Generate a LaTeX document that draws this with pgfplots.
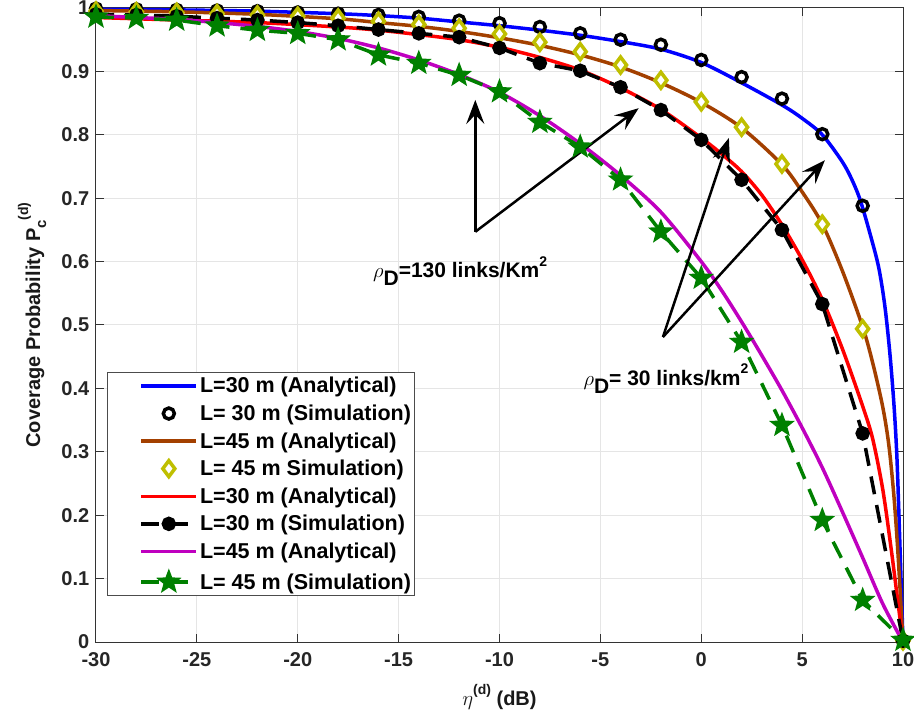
\documentclass[border=0pt]{standalone}
\usepackage{fontspec}
\setmainfont{Liberation Sans}
\usepackage{amsmath}
\usepackage{pgfplots}
\pgfplotsset{compat=1.18}
\usetikzlibrary{arrows.meta}
\definecolor{mblue}{rgb}{0,0,1}
\definecolor{mbrown}{rgb}{0.64,0.25,0.0}
\definecolor{myellow}{rgb}{0.75,0.75,0}
\definecolor{mred}{rgb}{1,0,0}
\definecolor{mmag}{rgb}{0.75,0,0.75}
\definecolor{mgreen}{rgb}{0,0.5,0}
\pgfdeclareplotmark{fstar}{%
  \pgfpathmoveto{\pgfpointpolar{90}{\pgfplotmarksize}}%
  \pgfpathlineto{\pgfpointpolar{126}{0.42\pgfplotmarksize}}%
  \pgfpathlineto{\pgfpointpolar{162}{\pgfplotmarksize}}%
  \pgfpathlineto{\pgfpointpolar{198}{0.42\pgfplotmarksize}}%
  \pgfpathlineto{\pgfpointpolar{234}{\pgfplotmarksize}}%
  \pgfpathlineto{\pgfpointpolar{270}{0.42\pgfplotmarksize}}%
  \pgfpathlineto{\pgfpointpolar{306}{\pgfplotmarksize}}%
  \pgfpathlineto{\pgfpointpolar{342}{0.42\pgfplotmarksize}}%
  \pgfpathlineto{\pgfpointpolar{18}{\pgfplotmarksize}}%
  \pgfpathlineto{\pgfpointpolar{54}{0.42\pgfplotmarksize}}%
  \pgfpathclose\pgfusepathqfill}
\newcommand{\bigf}{\fontsize{20}{22}\selectfont\bfseries}
\newcommand{\annf}{\fontsize{21}{23}\selectfont\bfseries}
\begin{document}
\begin{tikzpicture}
\begin{axis}[
  scale only axis, width=807pt, height=634pt,
  xmin=-30, xmax=10, ymin=0, ymax=1,
  xtick={-30,-25,-20,-15,-10,-5,0,5,10},
  ytick={0,0.1,0.2,0.3,0.4,0.5,0.6,0.7,0.8,0.9,1},
  yticklabels={0,0.1,0.2,0.3,0.4,0.5,0.6,0.7,0.8,0.9,1},
  grid=major, grid style={color=black!10, line width=1pt},
  axis line style={color=black!80, line width=1pt},
  tick style={color=black!80, line width=1pt}, major tick length=8pt,
  tick label style={font=\bigf, text=black!85, inner sep=1pt},
  xticklabel style={yshift=-9.5pt},
  yticklabel style={xshift=-5.5pt},
  /pgf/number format/assume math mode=true,
  xlabel={$\eta$\raisebox{0.55em}{\fontsize{14}{14}\selectfont\bfseries (d)} (dB)},
  ylabel={Coverage Probability P\raisebox{-0.3em}{\fontsize{15}{15}\selectfont\bfseries c}\raisebox{0.6em}{\fontsize{14}{14}\selectfont\bfseries (d)}},
  xlabel style={at={(axis description cs:0.5,-0.0868)}, anchor=center},
  ylabel style={at={(axis description cs:-0.0793,0.5)}, anchor=center},
  label style={font=\bigf, text=black!90},
  legend style={at={(axis cs:-29.45,0.426)}, anchor=north west,
    font=\fontsize{21.5}{23}\selectfont\bfseries, draw=black!70, line width=1pt,
    row sep=6.5pt, inner xsep=2pt, inner ysep=3pt},
  legend cell align=left,
  legend image code/.code={\path (-30pt,0pt);\draw[mark repeat=2,mark phase=2] plot coordinates {(0pt,0pt) (27.5pt,0pt) (55pt,0pt)};},
  clip=false,
]
% rho=30, L=30 analytical
\addplot[mblue, line width=3.5pt, smooth] coordinates {
(-30,0.998) (-26,0.997) (-22,0.995) (-18,0.991) (-16,0.988) (-14,0.984) (-12,0.978) (-10,0.972) (-8,0.965) (-6,0.957) (-4,0.947) (-2,0.935) (0,0.914) (2,0.882) (4,0.847) (5,0.826) (6,0.800) (7,0.757) (7.5,0.727) (7.9,0.695) (8.4,0.640) (8.8,0.590) (9.1,0.530) (9.35,0.455) (9.55,0.375) (9.7,0.290) (9.85,0.150) (10,0)};
\addlegendentry{L=30 m (Analytical)}
\addplot[only marks, black, mark=o, mark size=5.5pt, line width=3.5pt, mark options={fill=white}] coordinates {
(-30,0.999) (-28,0.998) (-26,0.997) (-24,0.996) (-22,0.995) (-20,0.993) (-18,0.991) (-16,0.989) (-14,0.986) (-12,0.980) (-10,0.976) (-8,0.970) (-6,0.960) (-4,0.950) (-2,0.942) (0,0.918) (2,0.891) (4,0.857) (6,0.801) (8,0.688) (10,0.002)};
\addlegendentry{L= 30 m (Simulation)}
% rho=30, L=45 analytical
\addplot[mbrown, line width=3.5pt, smooth] coordinates {
(-30,0.996) (-26,0.994) (-22,0.990) (-18,0.983) (-16,0.977) (-14,0.971) (-12,0.963) (-10,0.953) (-8,0.941) (-6,0.926) (-4,0.907) (-2,0.882) (0,0.851) (2,0.811) (4,0.753) (5,0.710) (6,0.659) (7,0.585) (8,0.497) (8.5,0.440) (9,0.370) (9.3,0.310) (9.55,0.230) (9.75,0.140) (10,0)};
\addlegendentry{L=45 m (Analytical)}
\addplot[only marks, myellow, mark=diamond*, mark size=8pt, line width=3.5pt, mark options={fill=white}] coordinates {
(-30,0.995) (-28,0.994) (-26,0.993) (-24,0.991) (-22,0.989) (-20,0.987) (-18,0.984) (-16,0.979) (-14,0.974) (-12,0.968) (-10,0.959) (-8,0.946) (-6,0.931) (-4,0.910) (-2,0.886) (0,0.852) (2,0.812) (4,0.754) (6,0.659) (8,0.494) (10,0.002)};
\addlegendentry{L= 45 m Simulation)}
% rho=130, L=30 analytical
\addplot[mred, line width=3.5pt, smooth] coordinates {
(-30,0.985) (-26,0.981) (-22,0.977) (-18,0.970) (-16,0.965) (-14,0.958) (-12,0.950) (-10,0.938) (-8,0.922) (-6,0.902) (-4,0.874) (-2,0.840) (0,0.795) (1,0.770) (2,0.742) (3,0.705) (4,0.658) (5,0.603) (6,0.540) (7,0.462) (8,0.372) (8.5,0.320) (9,0.240) (9.4,0.150) (9.7,0.075) (10,0)};
\addlegendentry{L=30 m (Analytical)}
\addplot[black, line width=3.5pt, dash pattern=on 18pt off 11pt, mark=*, mark size=5.5pt, mark options={solid}] coordinates {
(-30,0.990) (-28,0.989) (-26,0.987) (-24,0.984) (-22,0.981) (-20,0.977) (-18,0.972) (-16,0.966) (-14,0.960) (-12,0.954) (-10,0.937) (-8,0.913) (-6,0.901) (-4,0.875) (-2,0.839) (0,0.792) (2,0.729) (4,0.650) (6,0.533) (8,0.329) (10,0.002)};
\addlegendentry{L=30 m (Simulation)}
% rho=130, L=45 analytical
\addplot[mmag, line width=3.5pt, smooth] coordinates {
(-30,0.988) (-28,0.985) (-26,0.982) (-24,0.977) (-22,0.971) (-20,0.963) (-18,0.952) (-16,0.937) (-14,0.918) (-12,0.895) (-10,0.867) (-8,0.830) (-6,0.786) (-4,0.736) (-2,0.678) (0,0.600) (1,0.555) (2,0.505) (3,0.452) (4,0.397) (5,0.338) (6,0.275) (7,0.205) (8,0.133) (9,0.060) (10,0)};
\addlegendentry{L=45 m (Analytical)}
\addplot[mgreen, line width=3.5pt, dash pattern=on 18pt off 11pt, mark=fstar, mark size=13.5pt, mark options={solid}] coordinates {
(-30,0.986) (-28,0.984) (-26,0.981) (-24,0.972) (-22,0.965) (-20,0.960) (-18,0.950) (-16,0.926) (-14,0.913) (-12,0.894) (-10,0.868) (-8,0.820) (-6,0.781) (-4,0.729) (-2,0.647) (0,0.574) (2,0.473) (4,0.342) (6,0.192) (8,0.066) (10,0.003)};
\addlegendentry{L= 45 m (Simulation)}
% annotations
\draw[black, line width=2.5pt, -{Stealth[length=24pt, width=18pt, inset=9pt]}] (axis cs:-11.2,0.647) -- (axis cs:-11.2,0.855);
\draw[black, line width=2.5pt, -{Stealth[length=24pt, width=18pt, inset=9pt]}] (axis cs:-11.2,0.647) -- (axis cs:-3.1,0.842);
\draw[black, line width=2.5pt, -{Stealth[length=24pt, width=18pt, inset=9pt]}] (axis cs:-1.9,0.481) -- (axis cs:1.37,0.795);
\draw[black, line width=2.5pt, -{Stealth[length=24pt, width=18pt, inset=9pt]}] (axis cs:-1.9,0.481) -- (axis cs:6.13,0.760);
\node[font=\annf, inner sep=0pt] at (axis cs:-11.95,0.585) {$\rho$\raisebox{-0.4em}{D}=130 links/Km\raisebox{0.55em}{\fontsize{14}{14}\selectfont\bfseries 2}};
\node[font=\annf, inner sep=0pt] at (axis cs:-1.75,0.415) {$\rho$\raisebox{-0.4em}{D}= 30 links/km\raisebox{0.55em}{\fontsize{14}{14}\selectfont\bfseries 2}};
\end{axis}
\pgfresetboundingbox
\path[use as bounding box] ([shift={(-96pt,-75pt)}]current axis.south west) rectangle ([shift={(11pt,8pt)}]current axis.north east);
\end{tikzpicture}
\end{document}
